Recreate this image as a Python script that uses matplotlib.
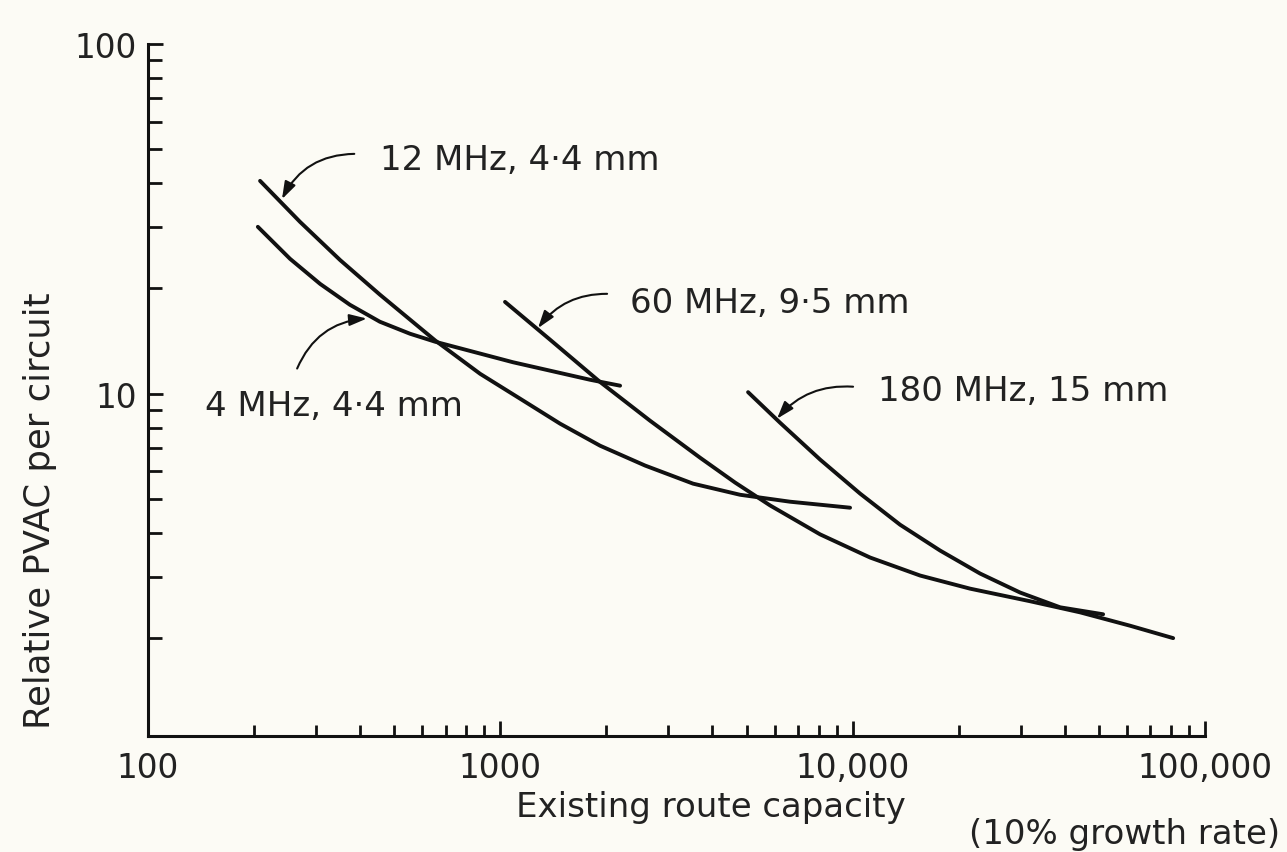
import matplotlib
matplotlib.use("Agg")
import matplotlib.pyplot as plt
from matplotlib.ticker import LogLocator, NullFormatter

plt.rcParams['font.family'] = ['DejaVu Sans']

# route capacity (circuits) and relative PVAC per circuit for each cable system
cap_4mhz = [205, 253, 308, 374, 455, 554, 653, 1086, 1797, 2187]
pvac_4mhz = [30.0, 24.3, 20.6, 17.96, 16.06, 14.84, 14.08, 12.3, 10.96, 10.54]

cap_12mhz = [208, 270, 351, 455, 653, 876, 1137, 1477, 1919, 2575, 3524,
             4790, 6643, 9830]
pvac_12mhz = [40.6, 31.0, 24.1, 19.2, 14.2, 11.4, 9.68, 8.21, 7.10, 6.23,
              5.53, 5.14, 4.91, 4.72]

cap_60mhz = [1031, 1384, 1919, 2660, 3689, 4637, 5831, 8083, 11205, 15535,
             21540, 31875, 44200, 61300, 81200]
pvac_60mhz = [18.3, 14.27, 10.8, 8.37, 6.56, 5.57, 4.79, 3.96, 3.40, 3.02,
              2.77, 2.55, 2.37, 2.17, 2.0]

cap_180mhz = [5048, 6221, 8083, 10496, 13630, 17705, 22990, 29870, 38790, 51380]
pvac_180mhz = [10.1, 8.26, 6.48, 5.18, 4.22, 3.56, 3.06, 2.70, 2.45, 2.34]

x_ticks = [100, 1000, 10000, 100000]
x_tick_labels = ['100', '1000', '10,000', '100,000']
y_ticks = [10, 100]
y_tick_labels = ['10', '100']

# label text, label position, arrow tail, arrow tip, arc of the arrow
labels = [
    ('12 MHz, 4·4 mm', (455, 46.6), (385, 48.5), (240, 36.0), 0.3),
    ('4 MHz, 4·4 mm', (145, 9.24), (265, 11.8), (418, 16.4), -0.3),
    ('60 MHz, 9·5 mm', (2334, 18.2), (2009, 19.3), (1279, 15.4), 0.25),
    ('180 MHz, 15 mm', (11810, 10.2), (10026, 10.47), (6100, 8.48), 0.25),
]

ink = '#111111'
text_ink = '#222222'
paper = '#fcfbf5'
tick_fs = 23.5
note_fs = 24.5

fig = plt.figure(figsize=(12.87, 8.53), dpi=100, facecolor=paper)
ax = fig.add_axes([0.1150, 0.1360, 0.8213, 0.8113])
ax.set_facecolor(paper)

for cap, pvac in [(cap_4mhz, pvac_4mhz), (cap_12mhz, pvac_12mhz),
                  (cap_60mhz, pvac_60mhz), (cap_180mhz, pvac_180mhz)]:
    ax.plot(cap, pvac, color=ink, lw=2.8, solid_capstyle='round',
            solid_joinstyle='round')

ax.set_xscale('log')
ax.set_yscale('log')
ax.set_xlim(100, 100000)
ax.set_ylim(1.05, 100)

ax.set_xticks(x_ticks)
ax.set_xticklabels(x_tick_labels)
ax.set_yticks(y_ticks)
ax.set_yticklabels(y_tick_labels)
ax.xaxis.set_minor_locator(LogLocator(base=10, subs=range(2, 10)))
ax.yaxis.set_minor_locator(LogLocator(base=10, subs=range(2, 10)))
ax.xaxis.set_minor_formatter(NullFormatter())
ax.yaxis.set_minor_formatter(NullFormatter())

ax.tick_params(axis='both', which='both', direction='in', color=ink,
               width=2, labelsize=tick_fs, labelcolor=text_ink)
ax.tick_params(axis='x', which='major', length=11, pad=11)
ax.tick_params(axis='x', which='minor', length=8)
ax.tick_params(axis='y', which='major', length=11, pad=8)
ax.tick_params(axis='y', which='minor', length=10)

for side in ['top', 'right']:
    ax.spines[side].set_visible(False)
for side in ['left', 'bottom']:
    ax.spines[side].set_linewidth(2.2)
    ax.spines[side].set_color(ink)

for text, pos, tail, tip, rad in labels:
    ax.text(pos[0], pos[1], text, fontsize=note_fs, color=text_ink,
            ha='left', va='center')
    ax.annotate('', xy=tip, xytext=tail,
                arrowprops=dict(arrowstyle='-|>,head_length=0.75,head_width=0.25',
                                connectionstyle='arc3,rad=%s' % rad,
                                color=ink, lw=1.5, mutation_scale=14,
                                shrinkA=0, shrinkB=0))

fig.text(40 / 1287, 1 - 511 / 853, 'Relative PVAC per circuit', rotation=90,
         fontsize=25.5, color=text_ink, ha='center', va='center')
fig.text(711 / 1287, 1 - 808 / 853, 'Existing route capacity',
         fontsize=note_fs, color=text_ink, ha='center', va='center')
fig.text(1280 / 1287, 1 - 835 / 853, '(10% growth rate)',
         fontsize=note_fs, color=text_ink, ha='right', va='center')

fig.savefig('out.png', dpi=100, facecolor=paper)
